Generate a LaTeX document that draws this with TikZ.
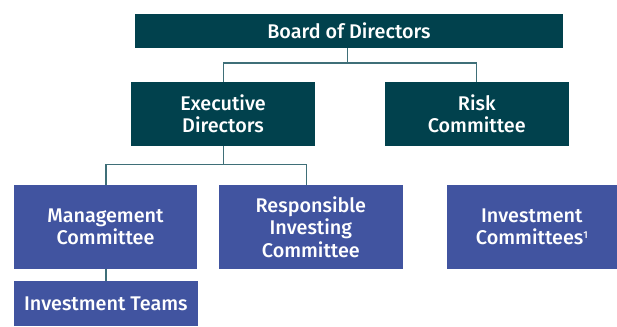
\documentclass[tikz,border=0pt]{standalone}
\usepackage{fontspec}
\setmainfont{Fira Sans Medium}
\usetikzlibrary{calc}
\definecolor{boardteal}{HTML}{01414D}
\definecolor{unitblue}{HTML}{4154A0}
\definecolor{linkteal}{HTML}{3F6F78}
\begin{document}
\begin{tikzpicture}[x=1pt,y=-1pt,
  orgbox/.style={rectangle,inner sep=0pt,outer sep=0pt,text=white,align=center,
    font=\fontsize{19.8}{22.5}\selectfont},
  topbox/.style={orgbox,fill=boardteal},
  lowbox/.style={orgbox,fill=unitblue},
  link/.style={draw=linkteal,line width=1.3pt}]
\useasboundingbox (0,0) rectangle (617,326);
% governing bodies
\node[topbox,minimum width=428pt,minimum height=34.5pt] (board) at (349,31.25) {Board of Directors};
\node[topbox,minimum width=184pt,minimum height=64pt] (exec) at (223,114) {Executive\\Directors};
\node[topbox,minimum width=183.5pt,minimum height=64pt] (risk) at (476.75,114) {Risk\\Committee};
% committees and teams
\node[lowbox,minimum width=183.5pt,minimum height=83.7pt] (mgmt) at (105.5,226.85) {Management\\Committee};
\node[lowbox,minimum width=183.7pt,minimum height=83.7pt] (resp) at (310.85,226.85) {Responsible\\Investing\\Committee};
\node[lowbox,minimum width=169.7pt,minimum height=83.7pt] (invc) at (531.85,226.85) {Investment\\Committees{\fontsize{10}{10}\selectfont\raisebox{0.62em}{1}}};
\node[lowbox,minimum width=183.7pt,minimum height=45pt] (invt) at (105.85,303.5) {Investment Teams};
% connectors
\coordinate (busA) at (347.7,63);
\coordinate (busB) at (223.7,164.5);
\draw[link] ([xshift=-1.3pt]board.south) -- (busA);
\draw[link] ([xshift=0.7pt]exec.north) |- (busA) -| (risk.north);
\draw[link] ([xshift=0.7pt]exec.south) -- (busB);
\draw[link] ([xshift=0.5pt]mgmt.north) |- (busB) -| ([xshift=-4.2pt]resp.north);
\draw[link] ([xshift=0.5pt]mgmt.south) -- ([xshift=0.15pt]invt.north);
\end{tikzpicture}
\end{document}
